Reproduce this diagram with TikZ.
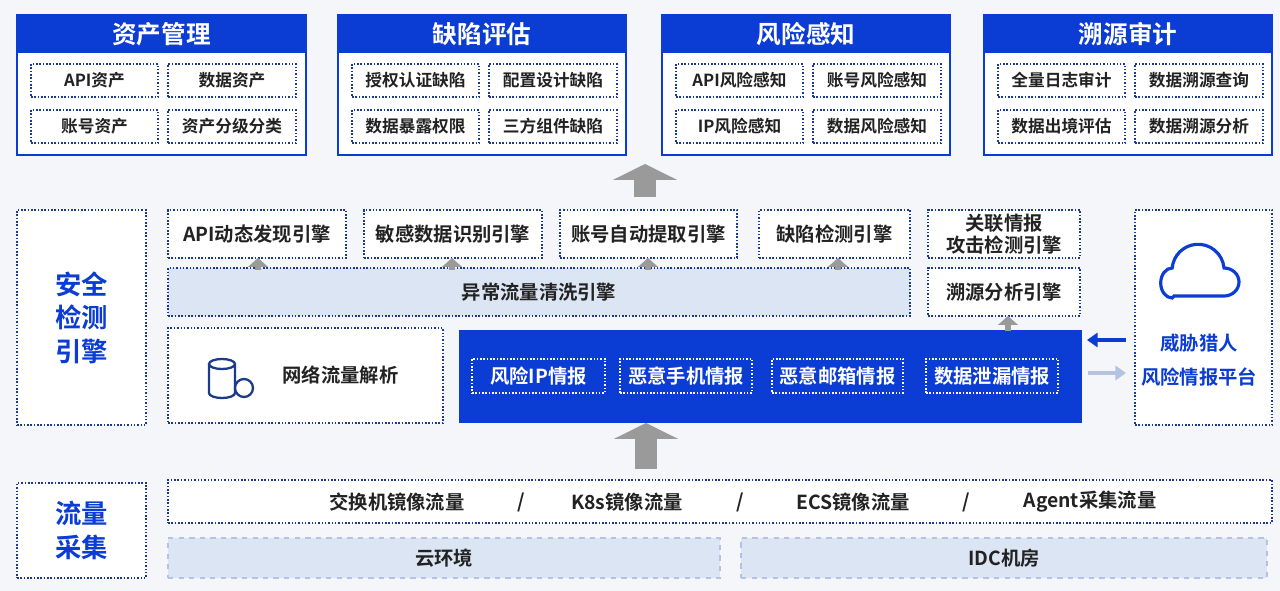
\documentclass[tikz,border=0pt]{standalone}
\usepackage{fontspec}
\setmainfont{Noto Sans CJK SC}[BoldFont={Noto Sans CJK SC Bold}]
\usetikzlibrary{arrows.meta}
\definecolor{bg}{HTML}{F4F6FA}
\definecolor{hdblue}{HTML}{0B3CD3}
\definecolor{dotblue}{HTML}{1C3A8C}
\definecolor{txt}{HTML}{222222}
\definecolor{paleblue}{HTML}{DCE5F3}
\definecolor{arrgray}{HTML}{9A9A9A}
\definecolor{lightarr}{HTML}{B4C3E2}
% box from corners (pixel coordinates)
\newcommand\bx[7][]{\node[box,#1,minimum width={((#4)-(#2))*0.02cm},minimum height={((#5)-(#3))*0.02cm}]
  (#6) at ({((#2)+(#4))/2},{((#3)+(#5))/2}) {#7};}
\tikzset{
  box/.style={inner sep=0pt,outer sep=0pt,align=center,font=\fontsize{9.5}{12}\selectfont\bfseries,text=txt},
  big/.style={font=\fontsize{11}{12.5}\selectfont\bfseries},
  dotbox/.style={draw=dotblue,densely dotted,line width=0.9pt,fill=white},
  panel/.style={draw=hdblue,line width=1pt,fill=white},
  head/.style={fill=hdblue,text=white,font=\fontsize{14}{16}\selectfont\bfseries},
  side/.style={dotbox,text=hdblue,font=\fontsize{15}{19}\selectfont\bfseries},
  intel/.style={draw=white,densely dotted,line width=0.9pt,text=white,big},
  env/.style={draw=lightarr,dashed,line width=0.8pt,fill=paleblue,big},
  small arrow/.style={draw=arrgray,line width=3pt,-{Triangle[width=11pt,length=5pt]}},
  big arrow/.style={draw=arrgray,line width=12pt,-{Triangle[width=36pt,length=9pt]}},
}
\begin{document}
\begin{tikzpicture}[x=0.02cm,y=-0.02cm]
\fill[bg] (0,0) rectangle (1280,591);
% top panels
\foreach \xa/\xb/\nm/\ttl in {17/306/asset/资产管理,338/626/vuln/缺陷评估,662/950/risk/风险感知,984/1272/audit/溯源审计}{
  \bx[panel]{\xa}{15}{\xb}{155}{\nm}{}
  \bx[head]{\xa}{15}{\xb}{53}{\nm-h}{\ttl}
}
\foreach \xo/\a/\b/\c/\d in {0/API资产/数据资产/账号资产/资产分级分类,321/授权认证缺陷/配置设计缺陷/数据暴露权限/三方组件缺陷,645/API风险感知/账号风险感知/IP风险感知/数据风险感知,967/全量日志审计/数据溯源查询/数据出境评估/数据溯源分析}{
  \bx[dotbox]{31+\xo}{64}{158+\xo}{97}{t\xo a}{\a}
  \bx[dotbox]{168+\xo}{64}{296+\xo}{97}{t\xo b}{\b}
  \bx[dotbox]{31+\xo}{110}{158+\xo}{143}{t\xo c}{\c}
  \bx[dotbox]{168+\xo}{110}{296+\xo}{143}{t\xo d}{\d}
}
% detection engine
\bx[side]{17}{210}{146}{425}{detect}{安全\\检测\\引擎}
\bx[dotbox,big]{168}{210}{346}{258}{e1}{API动态发现引擎}
\bx[dotbox,big]{364}{210}{542}{258}{e2}{敏感数据识别引擎}
\bx[dotbox,big]{560}{210}{737}{258}{e3}{账号自动提取引擎}
\bx[dotbox,big]{759}{210}{910}{258}{e4}{缺陷检测引擎}
\bx[dotbox,big]{928}{210}{1080}{258}{e5}{关联情报\\攻击检测引擎}
\bx[dotbox,fill=paleblue,big]{168}{268}{910}{316}{clean}{异常流量清洗引擎}
\bx[dotbox,big]{928}{268}{1080}{316}{trace}{溯源分析引擎}
\bx[dotbox,big]{168}{328}{443}{423}{parse}{\hspace*{40pt}网络流量解析}
\bx[fill=hdblue]{459}{330}{1082}{423}{intelbox}{}
\foreach \xa/\xb/\nm/\ttl in {472/605/i1/风险IP情报,620/752/i2/恶意手机情报,772/903/i3/恶意邮箱情报,926/1058/i4/数据泄漏情报}{
  \bx[intel]{\xa}{359}{\xb}{393}{\nm}{\ttl}
}
\bx[side]{1135}{210}{1272}{425}{hunter}{}
\node[box,text=hdblue,font=\fontsize{11}{19}\selectfont\bfseries] (hunter-t) at (1199,360) {威胁猎人\\风险情报平台};
% icons
\draw[hdblue,line width=1.8pt] (1174,296) -- (1224,296) arc(90:-90:15 and 14) arc(-5:-175:26) arc(-90:-270:11.5 and 15) -- cycle;
\draw[dotblue,line width=1.3pt] (222,364) ellipse (13 and 5) (209,364) -- (209,393) arc(180:0:13 and 5) -- (235,364);
\draw[dotblue,line width=1.3pt,fill=white] (244,388) circle (9);
% arrows
\foreach \e/\x in {e1/258,e2/452,e3/648,e4/838}{
  \coordinate (s\e) at (\x,270); \draw[small arrow] (s\e) -- (\e.south -| s\e);
}
\coordinate (strace) at (1008,331); \draw[small arrow] (strace) -- (trace.south -| strace);
\coordinate (up1) at (645,197); \coordinate (up1e) at (645,164);
\draw[big arrow] (up1) -- (up1e);
\coordinate (up2) at (646,469); \draw[big arrow] (up2) -- (intelbox.south -| up2);
\coordinate (inA) at (1126,340); \coordinate (inB) at (1087,340);
\draw[hdblue,line width=2pt,-{Triangle[width=8pt,length=6pt]}] (inA) -- (inB);
\coordinate (outA) at (1088,373); \coordinate (outB) at (1126,373);
\draw[lightarr,line width=2pt,-{Triangle[width=8pt,length=6pt]}] (outA) -- (outB);
% traffic collection
\bx[side]{17}{483}{146}{578}{collect}{流量\\采集}
\bx[dotbox]{168}{480}{1272}{523}{traffic}{}
\foreach \x/\ttl in {397/交换机镜像流量,521/{/},627/K8s镜像流量,740/{/},853/ECS镜像流量,966/{/},1090/Agent采集流量}{
  \node[box,big] at (\x,502) {\ttl};
}
\bx[env]{168}{538}{720}{578}{cloud}{云环境}
\bx[env]{741}{538}{1267}{578}{idc}{IDC机房}
\end{tikzpicture}
\end{document}
